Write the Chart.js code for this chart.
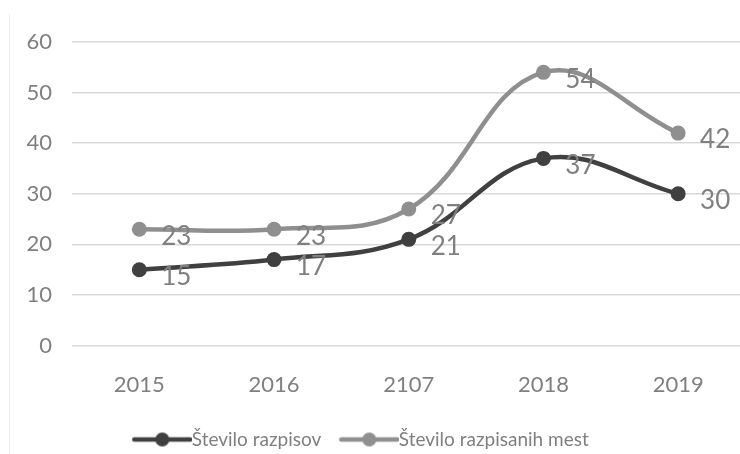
<!DOCTYPE html>
<html>
<head>
<meta charset="utf-8">
<script src="https://cdn.jsdelivr.net/npm/chart.js@4.4.0/dist/chart.umd.min.js"></script>
<style>
  html, body { margin: 0; padding: 0; background: #fff; overflow: hidden; }
  #wrap { position: relative; width: 740px; height: 454px; overflow: hidden; }
  #wrap:before { content: ''; position: absolute; left: 9px; top: 14px; bottom: 0; border-left: 1px solid #eeeeee; }
  canvas { position: absolute; left: 0; top: 0; }
</style>
</head>
<body>
<div id="wrap"><canvas id="chart" width="753" height="454"></canvas></div>
<script>
const years = ['2015', '2016', '2107', '2018', '2019'];
const razpisi = [15, 17, 21, 37, 30];
const mesta = [23, 23, 27, 54, 42];
const yTicks = [0, 10, 20, 30, 40, 50, 60];

const darkColor = '#404040';
const lightColor = '#8f8f8f';
const textColor = '#808080';

// legend marker: line with a dot, shifted so it touches the text
function legendMarker(color) {
  let c = document.createElement('canvas');
  c.width = 82;
  c.height = 16;
  let g = c.getContext('2d');
  g.strokeStyle = color;
  g.lineWidth = 4.5;
  g.lineCap = 'round';
  g.beginPath();
  g.moveTo(24, 8);
  g.lineTo(80, 8);
  g.stroke();
  g.fillStyle = color;
  g.beginPath();
  g.arc(52, 8, 7, 0, Math.PI * 2);
  g.fill();
  return c;
}

// value labels, right-below of each point
const valueLabels = {
  id: 'valueLabels',
  afterLayout(chart) {
    // legend sits a bit left of the canvas centre
    chart.legend.right -= 44;
  },
  afterDatasetsDraw(chart) {
    let ctx = chart.ctx;
    ctx.save();
    ctx.font = '26px Lato';
    ctx.fillStyle = textColor;
    ctx.textAlign = 'center';
    ctx.textBaseline = 'middle';
    chart.data.datasets.forEach((ds, i) => {
      chart.getDatasetMeta(i).data.forEach((pt, j) => {
        ctx.fillText(ds.data[j], pt.x + 37, pt.y + 7);
      });
    });
    ctx.restore();
  },
};

new Chart(document.getElementById('chart'), {
  type: 'line',
  data: {
    labels: years,
    datasets: [
      {
        label: 'Število razpisov',
        data: razpisi,
        borderColor: darkColor,
        backgroundColor: darkColor,
        borderWidth: 4.5,
        pointRadius: 7.5,
        pointHoverRadius: 7.5,
        pointBorderWidth: 0,
        tension: 0.4,
      },
      {
        label: 'Število razpisanih mest',
        data: mesta,
        borderColor: lightColor,
        backgroundColor: lightColor,
        borderWidth: 4.5,
        pointRadius: 7.5,
        pointHoverRadius: 7.5,
        pointBorderWidth: 0,
        tension: 0.4,
      },
    ],
  },
  options: {
    responsive: false,
    animation: false,
    layout: { padding: { top: 42, right: 0, left: 0, bottom: -5 } },
    plugins: {
      tooltip: { enabled: false },
      legend: {
        position: 'bottom',
        labels: {
          usePointStyle: true,
          pointStyleWidth: 62,
          boxHeight: 16,
          padding: 6,
          color: textColor,
          font: { family: 'Lato', size: 19 },
          generateLabels(chart) {
            return chart.data.datasets.map((ds, i) => ({
              text: ds.label,
              fontColor: textColor,
              pointStyle: legendMarker(ds.borderColor),
              fillStyle: ds.borderColor,
              strokeStyle: ds.borderColor,
              lineWidth: 0,
              datasetIndex: i,
            }));
          },
        },
      },
    },
    scales: {
      x: {
        offset: true,
        grid: { display: false, drawTicks: false },
        border: { display: false },
        ticks: { color: textColor, font: { family: 'Lato', size: 22 }, padding: 26 },
      },
      y: {
        min: 0,
        max: 60,
        afterBuildTicks(scale) {
          scale.ticks = yTicks.map(v => ({ value: v }));
        },
        afterFit(scale) {
          scale.width = 72;
        },
        grid: { color: '#d9d9d9', lineWidth: 1.5, drawTicks: false },
        border: { display: false },
        ticks: { color: textColor, font: { family: 'Lato', size: 22 }, padding: 20 },
      },
    },
  },
  plugins: [valueLabels],
});
</script>
</body>
</html>
